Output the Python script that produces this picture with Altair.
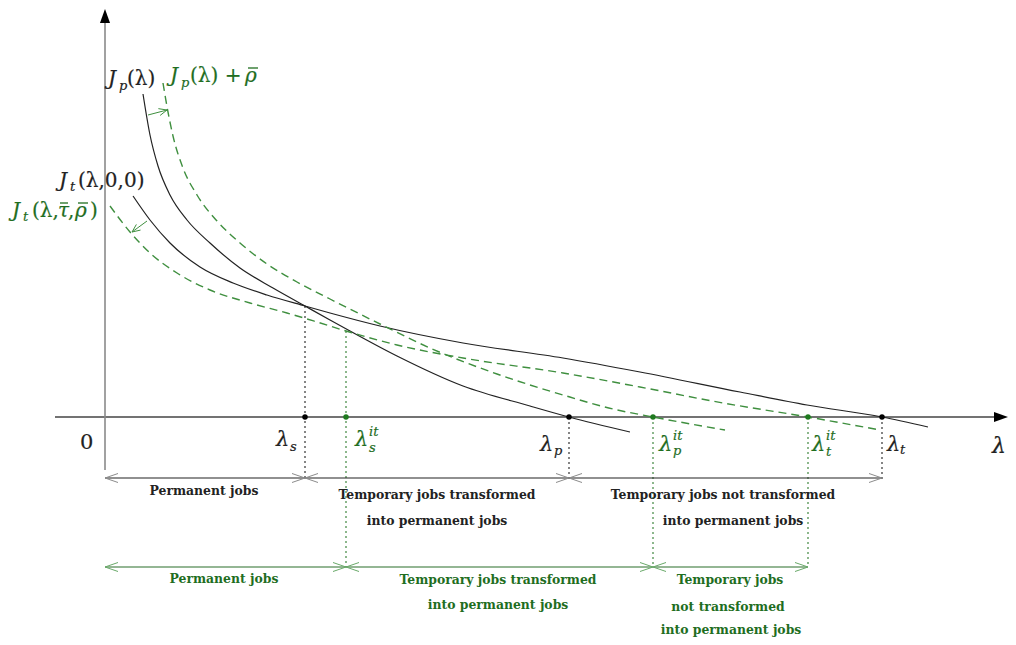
import math
import altair as alt
import pandas as pd

# ---------------------------------------------------------------
# Curves: (lambda, J), origin where the axes cross
# ---------------------------------------------------------------
jp_lam = [38, 45, 53, 65, 82, 105, 135, 168, 200, 225, 245, 292, 358, 425, 464, 525]
jp_val = [323, 282, 251, 222, 197, 174, 149, 129, 111, 97, 86, 61, 31, 11, 0, -15]

jpr_lam = [58, 63, 68, 78, 92, 112, 135, 162, 192, 225, 275, 325, 392, 458, 508, 548, 620]
jpr_val = [334, 305, 281, 249, 222, 196, 174, 153, 135, 118, 93, 69, 43, 22, 8, 0, -13]

jt_lam = [28, 45, 65, 95, 128, 162, 200, 225, 275, 358, 458, 535, 635, 702, 777, 823]
jt_val = [221, 197, 174, 150, 134, 122, 111, 104, 91, 74, 59, 45, 25, 12, 0, -10]

jtr_lam = [5, 25, 45, 72, 105, 145, 182, 212, 241, 292, 358, 458, 535, 618, 703, 775]
jtr_val = [211, 185, 164, 144, 127, 114, 104, 95, 86, 72, 59, 44, 30, 14, 0, -13]

# thresholds (lambda_s, lambda_p, lambda_t) and the "it" ones
black_thr_lam = [200, 464, 777]
black_thr_top = [111, 0, 0]
green_thr_lam = [241, 548, 703]
green_thr_top = [86, 0, 0]

black_row = -61
green_row = -150

# job labels
black_jobs = ["Permanent jobs", "Temporary jobs transformed", "into permanent jobs",
              "Temporary jobs not transformed", "into permanent jobs"]
black_jobs_x = [99, 332, 332, 618, 628]
black_jobs_y = [-74, -78, -104, -78, -104]
green_jobs = ["Permanent jobs", "Temporary jobs transformed", "into permanent jobs",
              "Temporary jobs", "not transformed", "into permanent jobs"]
green_jobs_x = [119, 393, 393, 625, 623, 626]
green_jobs_y = [-162, -163, -188, -163, -190, -213]

BLACK = "#222222"
GREEN_LINE = "#3f8f3f"
GREEN_TEXT = "#1f6e1f"
GREEN_LIGHT = "#6aaa6a"
GREY = "#8a8a8a"

# math labels: (text, x, baseline, size, italic, color)
math_pieces = [
    ("J", 3, 332, 20, True, BLACK), ("p", 14, 327, 13, True, BLACK), ("(λ)", 22, 332, 20, False, BLACK),
    ("J", 65, 335, 20, True, GREEN_TEXT), ("p", 76, 330, 13, True, GREEN_TEXT),
    ("(λ) +", 85, 335, 20, False, GREEN_TEXT), ("ρ", 140, 335, 20, True, GREEN_TEXT),
    ("J", -46, 230, 20, True, BLACK), ("t", -35, 226, 13, True, BLACK),
    ("(λ,0,0)", -27, 230, 20, False, BLACK),
    ("J", -93, 200, 20, True, GREEN_TEXT), ("t", -82, 196, 13, True, GREEN_TEXT),
    ("(λ,", -73, 200, 20, False, GREEN_TEXT), ("τ", -47, 200, 20, True, GREEN_TEXT),
    (",", -37, 200, 20, False, GREEN_TEXT), ("ρ", -30, 200, 20, True, GREEN_TEXT),
    (")", -15, 200, 20, False, GREEN_TEXT),
    ("0", -25, -32, 21, False, BLACK),
    ("λ", 171, -29, 21, True, BLACK), ("s", 185, -34, 13, True, BLACK),
    ("λ", 250, -29, 21, True, GREEN_TEXT), ("it", 264, -19, 13, True, GREEN_TEXT), ("s", 264, -35, 13, True, GREEN_TEXT),
    ("λ", 435, -34, 21, True, BLACK), ("p", 449, -38, 13, True, BLACK),
    ("λ", 554, -34, 21, True, GREEN_TEXT), ("it", 568, -23, 13, True, GREEN_TEXT), ("p", 568, -38, 13, True, GREEN_TEXT),
    ("λ", 707, -34, 21, True, GREEN_TEXT), ("it", 721, -23, 13, True, GREEN_TEXT), ("t", 721, -39, 13, True, GREEN_TEXT),
    ("λ", 782, -34, 21, True, BLACK), ("t", 795, -37, 13, True, BLACK),
    ("λ", 887, -36, 22, True, BLACK),
]
# bars over rho / tau: (x from, x to, height)
macrons = [(143, 153, 349), (-45, -37, 214), (-27, -17, 214)]

# ---------------------------------------------------------------
W, H = 1000, 629
XS = alt.Scale(domain=[-97, 903], nice=False, zero=False)
YS = alt.Scale(domain=[-220, 409], nice=False, zero=False)


def enc(ch):
    return ch.encode(x=alt.X("x:Q", scale=XS, axis=None),
                     y=alt.Y("y:Q", scale=YS, axis=None))


def curve_df(lams, vals, name):
    return pd.DataFrame({"x": lams, "y": vals, "g": name, "o": range(len(lams))})


def line_layer(df, color, width, dash=None, interp="linear", opacity=1.0):
    kw = dict(color=color, strokeWidth=width, interpolate=interp, opacity=opacity)
    if dash:
        kw["strokeDash"] = dash
    return enc(alt.Chart(df).mark_line(**kw)).encode(detail="g:N", order="o:Q")


def chevron(rows, gid, tipx, tipy, ux, uy, L, h):
    n = math.hypot(ux, uy)
    ux, uy = ux / n, uy / n
    px, py = -uy, ux
    bx, by = tipx - L * ux, tipy - L * uy
    rows += [dict(x=bx + h * px, y=by + h * py, g=gid, o=0),
             dict(x=tipx, y=tipy, g=gid, o=1),
             dict(x=bx - h * px, y=by - h * py, g=gid, o=2)]


def segs(rows, gid, x1, y1, x2, y2):
    rows += [dict(x=x1, y=y1, g=gid, o=0), dict(x=x2, y=y2, g=gid, o=1)]


layers = []

# axes
ax_rows = []
segs(ax_rows, "x", -50, 0, 893, 0)
layers.append(line_layer(pd.DataFrame(ax_rows), "#444444", 1.3))
yax = []
segs(yax, "y", 0, -53, 0, 396)
layers.append(line_layer(pd.DataFrame(yax), GREY, 1.6))

# arrow heads on axes
layers.append(enc(alt.Chart(pd.DataFrame({"x": [0], "y": [401]})).mark_point(
    shape="M0,-1L0.72,1L-0.72,1Z", filled=True, size=196, color="#000000", opacity=1)))
layers.append(enc(alt.Chart(pd.DataFrame({"x": [896], "y": [0]})).mark_point(
    shape="M1,0L-1,0.72L-1,-0.72Z", filled=True, size=196, color="#000000", opacity=1)))

# dotted threshold lines
bd = []
for i, (l, t) in enumerate(zip(black_thr_lam, black_thr_top)):
    segs(bd, f"b{i}", l, t, l, black_row - 2)
gd = []
for i, (l, t) in enumerate(zip(green_thr_lam, green_thr_top)):
    segs(gd, f"g{i}", l, t, l, green_row)
layers.append(line_layer(pd.DataFrame(bd), BLACK, 1.1, dash=[2, 3]))
layers.append(line_layer(pd.DataFrame(gd), "#2e7d2e", 1.1, dash=[2, 3]))

# curves
solid = pd.concat([curve_df(jp_lam, jp_val, "jp"), curve_df(jt_lam, jt_val, "jt")])
dashed = pd.concat([curve_df(jpr_lam, jpr_val, "jpr"), curve_df(jtr_lam, jtr_val, "jtr")])
layers.append(line_layer(solid, BLACK, 1.2, interp="monotone"))
layers.append(line_layer(dashed, GREEN_LINE, 1.4, dash=[8, 5], interp="monotone"))

# small shift arrows
sa = []
segs(sa, "a1", 43, 302, 62, 307)
chevron(sa, "a1h", 62, 307, 19, 5, 8, 3.5)
segs(sa, "a2", 42, 196, 27, 185)
chevron(sa, "a2h", 27, 185, -15, -11, 8, 3.5)
layers.append(line_layer(pd.DataFrame(sa), GREEN_LINE, 1.0))

# range rows
br = []
segs(br, "row", 0, black_row, black_thr_lam[-1], black_row)
layers.append(line_layer(pd.DataFrame(br), BLACK, 1.1))
bc = []
edges = [0] + black_thr_lam
for i in range(len(edges) - 1):
    chevron(bc, f"l{i}", edges[i], black_row, -1, 0, 13, 4.5)
    chevron(bc, f"r{i}", edges[i + 1], black_row, 1, 0, 13, 4.5)
layers.append(line_layer(pd.DataFrame(bc), "#8c8c8c", 1.0))

gr = []
segs(gr, "row", 0, green_row, green_thr_lam[-1], green_row)
layers.append(line_layer(pd.DataFrame(gr), "#2a6e2a", 1.1))
gc = []
edges = [0] + green_thr_lam
for i in range(len(edges) - 1):
    chevron(gc, f"l{i}", edges[i], green_row, -1, 0, 13, 4.5)
    chevron(gc, f"r{i}", edges[i + 1], green_row, 1, 0, 13, 4.5)
layers.append(line_layer(pd.DataFrame(gc), GREEN_LIGHT, 1.0))

# dots on the axis
layers.append(enc(alt.Chart(pd.DataFrame({"x": black_thr_lam, "y": [0, 0, 0]})).mark_circle(
    size=30, color="#000000", opacity=1)))
layers.append(enc(alt.Chart(pd.DataFrame({"x": green_thr_lam, "y": [0, 0, 0]})).mark_circle(
    size=30, color="#1f7a1f", opacity=1)))

# macrons
mc = []
for i, (a, b, h) in enumerate(macrons):
    segs(mc, f"m{i}", a, h, b, h)
layers.append(line_layer(pd.DataFrame(mc), GREEN_TEXT, 1.3))

# job labels
jobs = pd.DataFrame({
    "x": black_jobs_x + green_jobs_x,
    "y": black_jobs_y + green_jobs_y,
    "t": black_jobs + green_jobs,
    "c": [BLACK] * len(black_jobs) + [GREEN_TEXT] * len(green_jobs),
})
layers.append(enc(alt.Chart(jobs).mark_text(
    font="DejaVu Serif", fontWeight="bold", fontSize=12.4, align="center", baseline="middle")).encode(
    text="t:N", color=alt.Color("c:N", scale=None)))

# math labels
for italic in (True, False):
    rows = [dict(x=x, y=y, t=t, s=s, c=c) for (t, x, y, s, it, c) in math_pieces if it == italic]
    layers.append(enc(alt.Chart(pd.DataFrame(rows)).mark_text(
        font="DejaVu Serif", fontStyle="italic" if italic else "normal",
        align="left", baseline="alphabetic", strokeWidth=0.2)).encode(
        text="t:N", color=alt.Color("c:N", scale=None), stroke=alt.Stroke("c:N", scale=None),
        size=alt.Size("s:Q", scale=None)))

chart = alt.layer(*layers).properties(
    width=W, height=H, autosize=alt.AutoSizeParams(type="none"), padding=0,
    background="white",
).configure_view(stroke=None)

chart.save("out.html", embed_options={"renderer": "svg", "actions": False})
